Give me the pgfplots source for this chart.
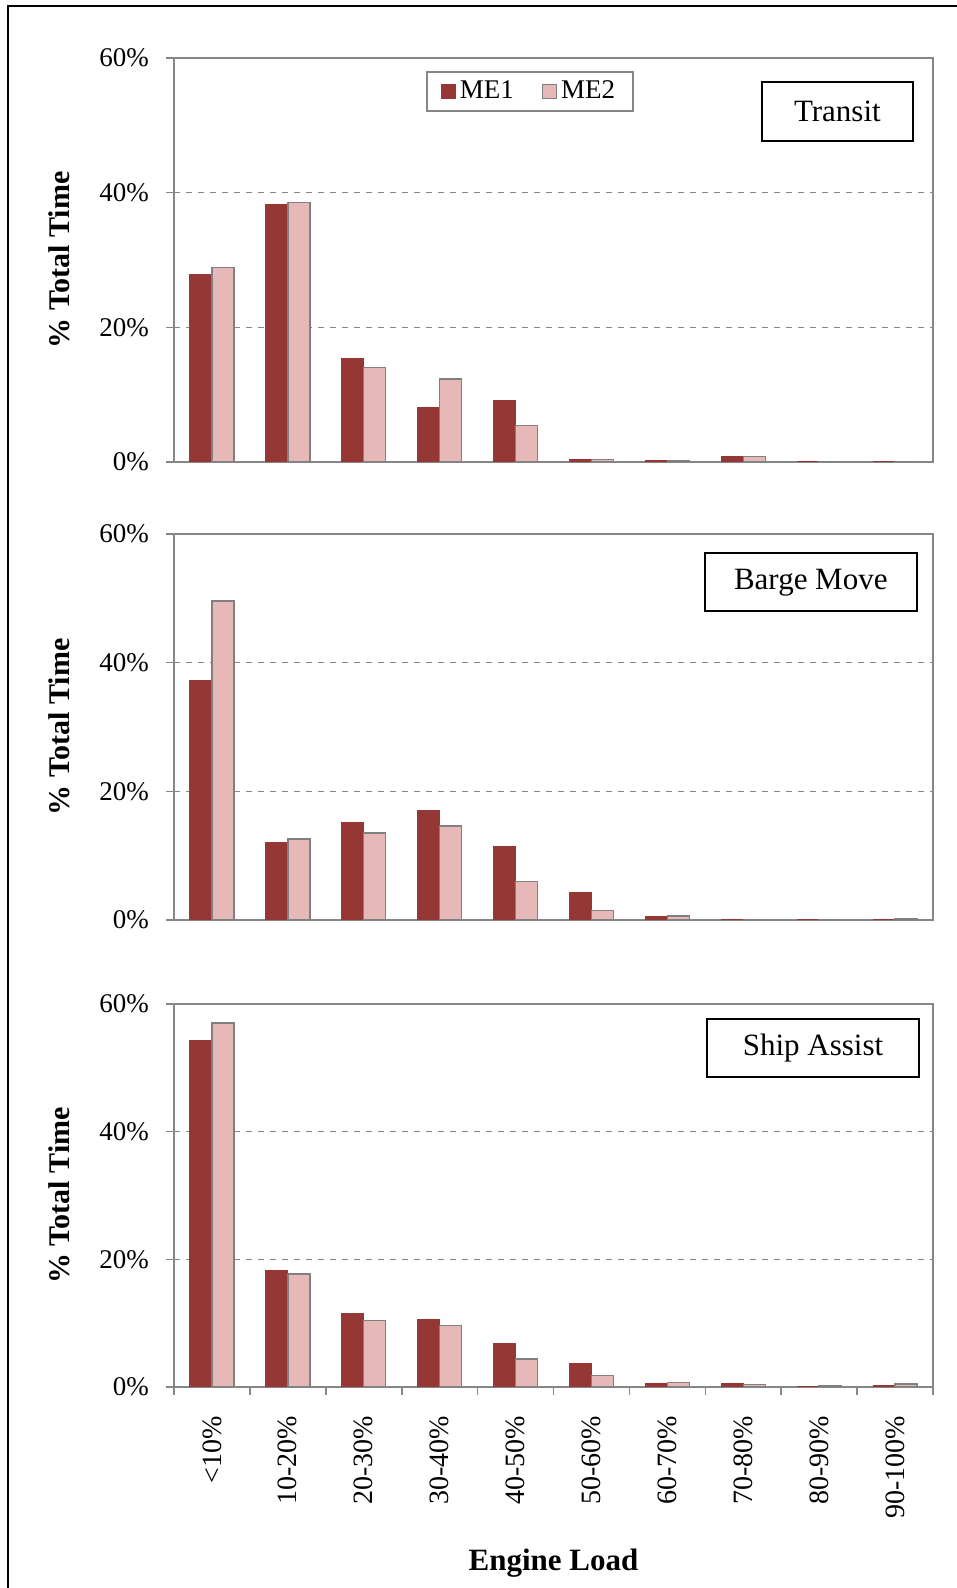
\documentclass[border=0pt]{standalone}
\usepackage{fontspec}
\setmainfont{Liberation Serif}
\usepackage{pgfplots}
\pgfplotsset{compat=1.18}
\usepackage{pgfplotstable}
\definecolor{meone}{RGB}{149,55,53}
\definecolor{metwo}{RGB}{230,185,184}
\definecolor{axgray}{RGB}{134,134,134}

\pgfplotstableread{
x me1 me2
0 27.8 28.9
1 38.2 38.5
2 15.3 14.0
3 8.1 12.3
4 9.2 5.4
5 0.4 0.4
6 0.2 0.15
7 0.75 0.85
8 0.05 0.1
9 0.05 0.1
}\transit

\pgfplotstableread{
x me1 me2
0 37.3 49.6
1 12.0 12.6
2 15.1 13.5
3 17.0 14.6
4 11.5 6.0
5 4.3 1.5
6 0.5 0.6
7 0.1 0.1
8 0.1 0.1
9 0.1 0.25
}\barge

\pgfplotstableread{
x me1 me2
0 54.3 57.0
1 18.2 17.7
2 11.5 10.4
3 10.6 9.6
4 6.8 4.4
5 3.75 1.8
6 0.6 0.7
7 0.47 0.36
8 0.1 0.15
9 0.3 0.47
}\ship

\pgfplotsset{panel/.style={
  scale only axis, width=379.5pt, xmin=-0.5, xmax=9.5, ymin=0, ymax=60,
  anchor=south west,
  axis line style={axgray, line width=0.8pt},
  ytick={0,20,40,60}, yticklabels={0\%,20\%,40\%,60\%},
  ymajorgrids, grid style={axgray, dashed, line width=0.6pt},
  tick align=outside, tick style={axgray, line width=0.8pt}, major tick length=4pt,
  ytick pos=left,
  ybar=0pt, bar width=11pt,
  xtick=\empty,
  ylabel={\bfseries\% Total Time},
  ylabel style={at={(axis description cs:-0.1515,0.5)}, anchor=center, font=\fontsize{15}{18}\selectfont},
  tick label style={font=\rmfamily\fontsize{13.5}{16}\selectfont},
  yticklabel style={xshift=-5pt},
  legend image code/.code={\draw[#1] (0pt,-3.5pt) rectangle (7pt,3.5pt);},
}}

\begin{document}
\begin{tikzpicture}
\useasboundingbox (0,0) rectangle (478.5pt,794pt);
\draw[line width=1.2pt] (4pt,0pt) -- (4pt,791pt) -- (478.5pt,791pt);

% Panel 1: Transit
\begin{axis}[panel, at={(87pt,563pt)}, height=202pt,
  legend style={at={(axis description cs:0.469,0.917)}, anchor=center, legend columns=2,
    draw=axgray, line width=0.8pt, font=\fontsize{13.5}{16}\selectfont,
    inner xsep=7pt, inner ysep=2.5pt,
    /tikz/every even column/.append style={column sep=12pt}},
]
\addplot[fill=meone, draw=meone, line width=0.5pt] table[x=x,y=me1]{\transit};
\addplot[fill=metwo, draw=gray, line width=0.7pt] table[x=x,y=me2]{\transit};
\legend{ME1,ME2}
\node[draw=black, line width=0.9pt, fill=white, minimum width=75.5pt, minimum height=29.5pt,
  font=\fontsize{15.5}{18}\selectfont] at (axis description cs:0.874,0.8676) {Transit};
\end{axis}

% Panel 2: Barge Move
\begin{axis}[panel, at={(87pt,334pt)}, height=193pt]
\addplot[fill=meone, draw=meone, line width=0.5pt] table[x=x,y=me1]{\barge};
\addplot[fill=metwo, draw=gray, line width=0.7pt] table[x=x,y=me2]{\barge};
\node[draw=black, line width=0.9pt, fill=white, minimum width=106pt, minimum height=29pt,
  font=\fontsize{15.5}{18}\selectfont] at (axis description cs:0.839,0.875) {Barge Move};
\end{axis}

% Panel 3: Ship Assist
\begin{axis}[panel, at={(87pt,100.5pt)}, height=191.5pt,
  xtick={0,...,9},
  xticklabels={<10\%,10-20\%,20-30\%,30-40\%,40-50\%,50-60\%,60-70\%,70-80\%,80-90\%,90-100\%},
  minor xtick={-0.5,0.5,...,9.5},
  xtick pos=bottom,
  major x tick style={draw=none},
  minor tick length=4pt,
  xticklabel style={rotate=90, anchor=east, xshift=-7pt, font=\rmfamily\fontsize{14}{16}\selectfont},
  xlabel={\bfseries Engine Load},
  xlabel style={at={(axis description cs:0.5,-0.46)}, anchor=center, font=\fontsize{15.5}{18}\selectfont},
]
\addplot[fill=meone, draw=meone, line width=0.5pt] table[x=x,y=me1]{\ship};
\addplot[fill=metwo, draw=gray, line width=0.7pt] table[x=x,y=me2]{\ship};
\node[draw=black, line width=0.9pt, fill=white, minimum width=106pt, minimum height=29pt,
  font=\fontsize{15.5}{18}\selectfont] at (axis description cs:0.842,0.885) {Ship Assist};
\end{axis}
\end{tikzpicture}
\end{document}
